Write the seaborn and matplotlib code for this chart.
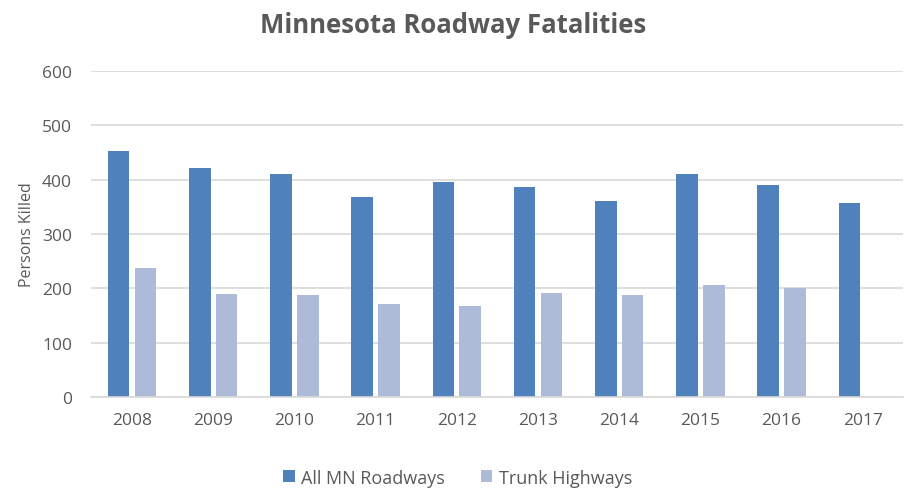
import matplotlib
matplotlib.use("Agg")
import matplotlib.pyplot as plt
import numpy as np
import pandas as pd
import seaborn as sns

years = ["2008", "2009", "2010", "2011", "2012", "2013", "2014", "2015", "2016", "2017"]
all_roads = [453, 421, 410, 368, 395, 387, 361, 410, 391, 357]
trunk = [238, 190, 188, 171, 168, 192, 188, 207, 201, np.nan]
series = ["All MN Roadways", "Trunk Highways"]
colors = ["#4F81BD", "#AEBBD8"]

df = pd.DataFrame({"year": years * 2,
                   "killed": all_roads + trunk,
                   "series": [series[0]] * len(years) + [series[1]] * len(years)})

sns.set_style("white")
plt.rcParams["font.family"] = ["Open Sans", "DejaVu Sans"]
text_col = "#595959"

fig = plt.figure(figsize=(9.07, 4.89), dpi=100)
ax = fig.add_axes([91.4 / 907, 1 - 398 / 489, 812 / 907, 326 / 489])

sns.barplot(data=df, x="year", y="killed", hue="series", hue_order=series,
            palette=colors, width=0.665, gap=0.2, ax=ax, saturation=1,
            edgecolor="none", errorbar=None)

ax.set_ylim(0, 600)
ax.set_xlim(-0.5, len(years) - 0.5)
ax.set_yticks(range(0, 601, 100))
ax.yaxis.grid(True, color="#D9D9D9", linewidth=1.2)
ax.set_axisbelow(True)
for s in ["top", "right", "left"]:
    ax.spines[s].set_visible(False)
ax.spines["bottom"].set_color("#D9D9D9")
ax.spines["bottom"].set_linewidth(1.2)
ax.tick_params(axis="both", length=0, labelsize=12.5, labelcolor=text_col)
ax.tick_params(axis="y", pad=14)
ax.tick_params(axis="x", pad=11)
ax.set_xlabel("")
ax.set_ylabel("Persons Killed", fontsize=11.5, color=text_col, labelpad=5)

fig.suptitle("Minnesota Roadway Fatalities", x=0.5, y=0.975, fontsize=18.5,
             fontweight="bold", color=text_col)

ax.legend(loc="lower center", bbox_to_anchor=(0.5 - 40 / 812, -0.325), ncol=2,
          frameon=False, fontsize=13, labelcolor=text_col, handlelength=0.65,
          handleheight=0.65, handletextpad=0.35, columnspacing=2.0)

fig.savefig("out.png", dpi=100)
